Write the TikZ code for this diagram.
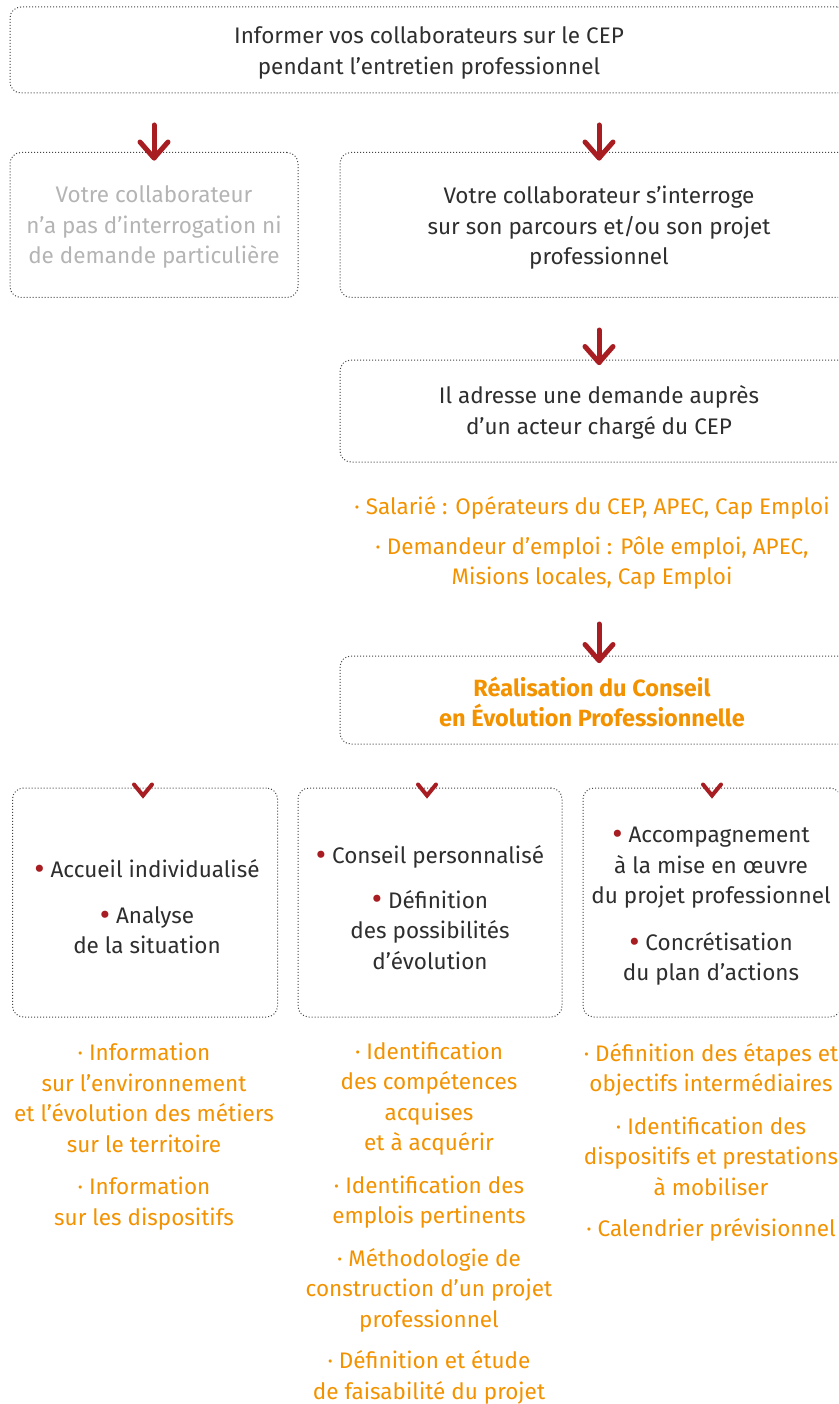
\documentclass[tikz,border=0pt]{standalone}
\usepackage{fontspec}
\usepackage{graphicx}
\setmainfont{Fira Sans}
\usetikzlibrary{calc}
\definecolor{txt}{HTML}{2E2E2E}
\definecolor{greytxt}{HTML}{B4B4B4}
\definecolor{orng}{HTML}{F39200}
\definecolor{darkred}{HTML}{A71D22}
\definecolor{dotc}{HTML}{444444}
\tikzset{
  dotbox/.style={draw=dotc, line width=1pt, dash pattern=on 1pt off 2pt, rounded corners=11pt, inner sep=0pt},
  txtnode/.style={align=center, inner sep=0pt, text=txt, font=\fontsize{22.5}{30.5}\selectfont},
  orangelist/.style={txtnode, text=orng},
  bigarrow/.style={draw=darkred, line width=5pt, line cap=round, line join=round},
  chev/.style={draw=darkred, line width=4pt, line cap=round, line join=miter},
}
\newcommand{\rb}{{\color{darkred}\raisebox{-1.8pt}{\scalebox{1.4}{\textbullet}}}~}
\newcommand{\ob}{{\color{orng}\textperiodcentered}~}
\begin{document}
\begin{tikzpicture}[x=1pt,y=-1pt]
\useasboundingbox (0,0) rectangle (838,1404);
\clip (0,0) rectangle (838,1404);
% boxes
\node[dotbox, minimum width=838pt, minimum height=86pt] (top) at (429,50) {};
\node[dotbox, minimum width=288pt, minimum height=145pt] (left) at (154,225) {};
\node[dotbox, minimum width=518pt, minimum height=145pt] (right) at (599,225) {};
\node[dotbox, minimum width=518pt, minimum height=102pt] (adresse) at (599,411) {};
\node[dotbox, minimum width=518pt, minimum height=88pt] (real) at (599,700) {};
\node[dotbox, minimum width=265pt, minimum height=229pt] (b1) at (145,902.5) {};
\node[dotbox, minimum width=264pt, minimum height=229pt] (b2) at (430,902.5) {};
\node[dotbox, minimum width=258pt, minimum height=229pt] (b3) at (712,902.5) {};
% texts
\node[txtnode] (ttop) at (429,53) {Informer vos collaborateurs sur le CEP\\pendant l’entretien professionnel};
\node[txtnode, text=greytxt] (tleft) at (154,227) {Votre collaborateur\\n’a pas d’interrogation ni\\de demande particulière};
\node[txtnode] (tright) at (599,228) {Votre collaborateur s’interroge\\sur son parcours et/ou son projet\\professionnel};
\node[txtnode] (tadresse) at (599,412.5) {Il adresse une demande auprès\\d’un acteur chargé du CEP};
\node[orangelist] (lacteurs) at (592,543) {\ob Salarié : Opérateurs du CEP, APEC, Cap Emploi\\[9pt]\ob Demandeur d’emploi : Pôle emploi, APEC,\\Misions locales, Cap Emploi};
\node[txtnode, text=orng, font=\fontsize{23.5}{30.5}\selectfont\bfseries] (treal) at (592,702) {Réalisation du Conseil\\en Évolution Professionnelle};
\node[txtnode] (tb1) at (147,907) {\rb Accueil individualisé\\[15pt]\rb Analyse\\de la situation};
\node[txtnode] (tb2) at (430,907.5) {\rb Conseil personnalisé\\[14pt]\rb Définition\\des possibilités\\d’évolution};
\node[txtnode] (tb3) at (711,906.5) {\rb Accompagnement\\à la mise en œuvre\\du projet professionnel\\[16pt]\rb Concrétisation\\du plan d’actions};
\node[orangelist] (l1) at (144,1136.5) {\ob Information\\sur l’environnement\\et l’évolution des métiers\\sur le territoire\\[12pt]\ob Information\\sur les dispositifs};
\node[orangelist] (l2) at (429,1223) {\ob Identification\\des compétences\\acquises\\et à acquérir\\[12pt]\ob Identification des\\emplois pertinents\\[12pt]\ob Méthodologie de\\construction d’un projet\\professionnel\\[11pt]\ob Définition et étude\\de faisabilité du projet};
\node[orangelist] (l3) at (711,1142.5) {\ob Définition des étapes et\\objectifs intermédiaires\\[12pt]\ob Identification des\\dispositifs et prestations\\à mobiliser\\[11pt]\ob Calendrier prévisionnel};
% arrows
\coordinate (s1) at (154,125);
\coordinate (s2) at (599,125);
\coordinate (s3) at (599,330);
\coordinate (s4) at (599,624);
\coordinate (e1) at ($(left.north)+(0,6)$);
\coordinate (e2) at ($(right.north)+(0,6)$);
\coordinate (e3) at ($(adresse.north)+(0,3)$);
\coordinate (e4) at ($(real.north)+(0,5)$);
\foreach \s/\e in {s1/e1, s2/e2, s3/e3, s4/e4}{
  \draw[bigarrow] (\s) -- (\e);
  \draw[bigarrow] ($(\e)+(-14,-16)$) -- (\e) -- ($(\e)+(14,-16)$);
}
% chevrons
\foreach \b/\dx in {b1/-2, b2/-3, b3/0}{
  \draw[chev] ($(\b.north)+(\dx-9,-3)$) -- ($(\b.north)+(\dx,8)$) -- ($(\b.north)+(\dx+9,-3)$);
}
\end{tikzpicture}
\end{document}
